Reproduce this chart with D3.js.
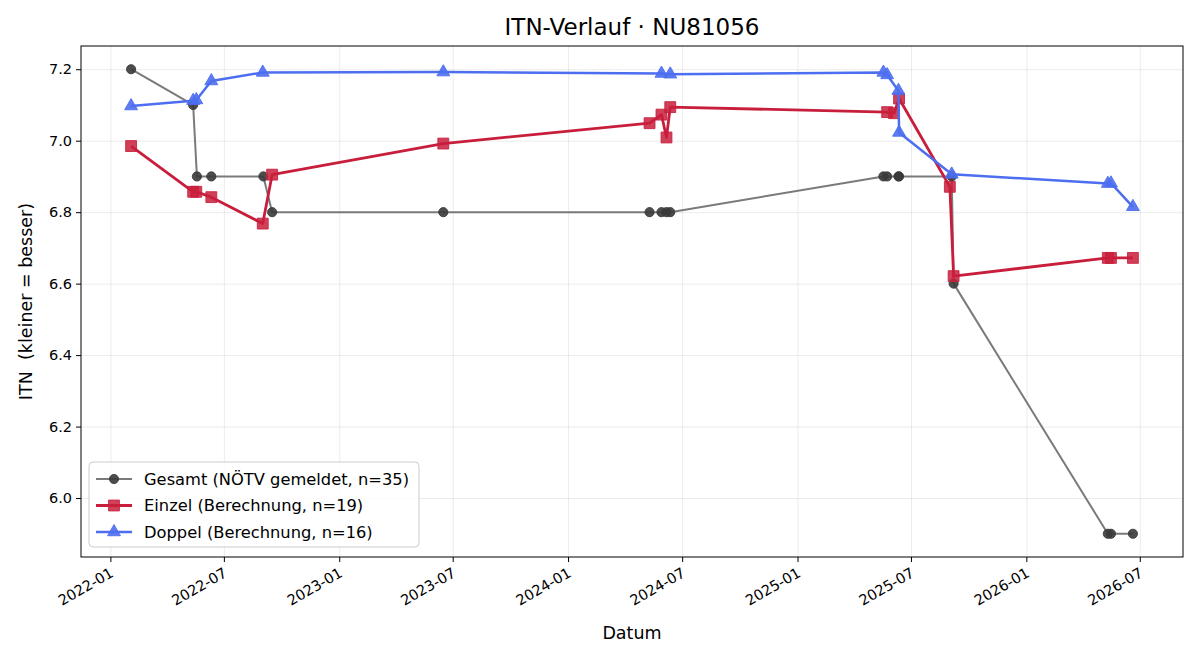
<!DOCTYPE html>
<html>
<head>
<meta charset="utf-8">
<script src="https://cdn.jsdelivr.net/npm/d3@7"></script>
<style>
  html, body { margin: 0; padding: 0; background: #fff; }
  svg { display: block; font-family: "DejaVu Sans", sans-serif; }
</style>
</head>
<body>
<div id="chart"></div>
<script>
// Series data (date, ITN)
const gesamtDates = ["2022-02-03", "2022-05-13", "2022-05-19", "2022-06-11", "2022-09-02", "2022-09-16",
    "2023-06-16", "2024-05-10", "2024-05-29", "2024-06-06", "2024-06-12", "2025-05-18", "2025-05-24",
    "2025-06-11", "2025-06-12", "2025-09-04", "2025-09-07", "2026-05-11", "2026-05-16", "2026-06-20"];
const gesamtValues = [7.2, 7.1, 6.9, 6.9, 6.9, 6.8,
    6.8, 6.8, 6.8, 6.8, 6.8, 6.9, 6.9,
    6.9, 6.9, 6.9, 6.6, 5.9, 5.9, 5.9];

const einzelDates = ["2022-02-03", "2022-05-13", "2022-05-18", "2022-06-11", "2022-09-01", "2022-09-16",
    "2023-06-16", "2024-05-10", "2024-05-29", "2024-06-06", "2024-06-12", "2025-05-24", "2025-06-04",
    "2025-06-12", "2025-09-01", "2025-09-07", "2026-05-11", "2026-05-16", "2026-06-20"];
const einzelValues = [6.985, 6.857, 6.857, 6.842, 6.768, 6.905,
    6.992, 7.049, 7.073, 7.009, 7.094, 7.080, 7.077,
    7.118, 6.871, 6.621, 6.672, 6.672, 6.672];

const doppelDates = ["2022-02-03", "2022-05-13", "2022-05-18", "2022-06-11", "2022-09-01", "2023-06-16",
    "2024-05-29", "2024-06-12", "2025-05-18", "2025-05-24", "2025-06-11", "2025-06-12", "2025-09-04",
    "2026-05-11", "2026-05-16", "2026-06-20"];
const doppelValues = [7.097, 7.112, 7.114, 7.167, 7.191, 7.192,
    7.188, 7.186, 7.191, 7.184, 7.140, 7.023, 6.906,
    6.880, 6.881, 6.815];

const yTicks = [6.0, 6.2, 6.4, 6.6, 6.8, 7.0, 7.2];
const legendLabels = ["Gesamt (NÖTV gemeldet, n=35)", "Einzel (Berechnung, n=19)", "Doppel (Berechnung, n=16)"];

const parse = d3.utcParse("%Y-%m-%d");
const toPoints = (dates, values) => dates.map((d, i) => ({ date: parse(d), value: values[i] }));

const series = [
    { key: "gesamt", points: toPoints(gesamtDates, gesamtValues), line: "#7a7a7a", lineWidth: 2,
      marker: "#3a3a3a", markerOpacity: 0.9, shape: d3.symbolCircle, size: 66 },
    { key: "einzel", points: toPoints(einzelDates, einzelValues), line: "#c81e3c", lineWidth: 2.8,
      marker: "#c81e3c", markerOpacity: 0.85, shape: d3.symbolSquare, size: 118 },
    { key: "doppel", points: toPoints(doppelDates, doppelValues), line: "#4d6ef0", lineWidth: 2.5,
      marker: "#4d6ef0", markerOpacity: 0.9, shape: d3.symbolTriangle, size: 72 }
];

const W = 1200, H = 660;
const margin = { top: 46, right: 17, bottom: 103, left: 81 };
const width = W - margin.left - margin.right;
const height = H - margin.top - margin.bottom;

const svg = d3.select("#chart").append("svg")
    .attr("width", W)
    .attr("height", H)
    .attr("viewBox", [0, 0, W, H]);

const chart = svg.append("g")
    .attr("transform", `translate(${margin.left},${margin.top})`);

// matplotlib-like 5% padding
const allPoints = series.flatMap(s => s.points);
const [t0, t1] = d3.extent(allPoints, d => d.date);
const tPad = (t1 - t0) * 0.05;
const [v0, v1] = d3.extent(allPoints, d => d.value);
const vPad = (v1 - v0) * 0.05;

const x = d3.scaleUtc()
    .domain([new Date(+t0 - tPad), new Date(+t1 + tPad)])
    .range([0, width]);

const y = d3.scaleLinear()
    .domain([v0 - vPad, v1 + vPad])
    .range([height, 0]);

const xTicks = x.ticks(d3.utcMonth.every(6));

// Grid
chart.append("g")
    .attr("class", "grid")
    .call(d3.axisBottom(x).tickValues(xTicks).tickSize(height).tickFormat(""))
    .call(g => g.select(".domain").remove())
    .selectAll("line")
    .attr("stroke", "#b0b0b0")
    .attr("stroke-opacity", 0.3)
    .attr("stroke-width", 0.8);

chart.append("g")
    .attr("class", "grid")
    .call(d3.axisLeft(y).tickValues(yTicks).tickSize(-width).tickFormat(""))
    .call(g => g.select(".domain").remove())
    .selectAll("line")
    .attr("stroke", "#b0b0b0")
    .attr("stroke-opacity", 0.3)
    .attr("stroke-width", 0.8);

// Lines and markers
const line = d3.line()
    .x(d => x(d.date))
    .y(d => y(d.value));

series.forEach(s => {
    chart.append("path")
        .datum(s.points)
        .attr("fill", "none")
        .attr("stroke", s.line)
        .attr("stroke-width", s.lineWidth)
        .attr("stroke-linejoin", "round")
        .attr("d", line);

    chart.append("g")
        .selectAll("path")
        .data(s.points)
        .join("path")
        .attr("d", d3.symbol().type(s.shape).size(s.size))
        .attr("transform", d => `translate(${x(d.date)},${y(d.value)})`)
        .attr("fill", s.marker)
        .attr("fill-opacity", s.markerOpacity)
        .attr("stroke", s.marker)
        .attr("stroke-opacity", s.markerOpacity)
        .attr("stroke-width", 1);
});

// Frame
chart.append("rect")
    .attr("width", width)
    .attr("height", height)
    .attr("fill", "none")
    .attr("stroke", "#000")
    .attr("stroke-width", 1);

// Axes
const xAxis = chart.append("g")
    .attr("transform", `translate(0,${height})`)
    .call(d3.axisBottom(x).tickValues(xTicks).tickSizeOuter(0).tickSize(5).tickFormat(d3.utcFormat("%Y-%m")));
xAxis.select(".domain").remove();
xAxis.selectAll("text")
    .attr("font-size", 14.5)
    .attr("font-family", "DejaVu Sans")
    .attr("fill", "#000")
    .attr("text-anchor", "end")
    .attr("y", 0)
    .attr("dy", "0.78em")
    .attr("transform", "translate(-2,9) rotate(-30)");

const yAxis = chart.append("g")
    .call(d3.axisLeft(y).tickValues(yTicks).tickSizeOuter(0).tickSize(5).tickFormat(d3.format(".1f")));
yAxis.select(".domain").remove();
yAxis.selectAll("text")
    .attr("font-size", 14.5)
    .attr("font-family", "DejaVu Sans")
    .attr("fill", "#000")
    .attr("x", -9);

// Labels
svg.append("text")
    .attr("x", margin.left + width / 2)
    .attr("y", 35)
    .attr("text-anchor", "middle")
    .attr("font-size", 23)
    .text("ITN-Verlauf · NU81056");

svg.append("text")
    .attr("x", margin.left + width / 2)
    .attr("y", 639)
    .attr("text-anchor", "middle")
    .attr("font-size", 17.5)
    .text("Datum");

svg.append("text")
    .attr("transform", `translate(32,${margin.top + height / 2}) rotate(-90)`)
    .attr("text-anchor", "middle")
    .attr("font-size", 17.5)
    .attr("xml:space", "preserve")
    .style("white-space", "pre")
    .text("ITN  (kleiner = besser)");

// Legend
const legend = chart.append("g")
    .attr("transform", `translate(8,${height - 95})`);

legend.append("rect")
    .attr("width", 330)
    .attr("height", 85)
    .attr("rx", 4)
    .attr("fill", "#fff")
    .attr("fill-opacity", 0.8)
    .attr("stroke", "#cccccc")
    .attr("stroke-width", 1);

series.forEach((s, i) => {
    const row = legend.append("g")
        .attr("transform", `translate(0,${17 + i * 26.5})`);
    row.append("line")
        .attr("x1", 7).attr("x2", 43)
        .attr("stroke", s.line)
        .attr("stroke-width", s.lineWidth);
    row.append("path")
        .attr("d", d3.symbol().type(s.shape).size(s.size))
        .attr("transform", "translate(25,0)")
        .attr("fill", s.marker)
        .attr("fill-opacity", s.markerOpacity)
        .attr("stroke", s.marker)
        .attr("stroke-opacity", s.markerOpacity);
    row.append("text")
        .attr("x", 55)
        .attr("dy", "0.35em")
        .attr("font-size", 16.3)
        .text(legendLabels[i]);
});
</script>
</body>
</html>
